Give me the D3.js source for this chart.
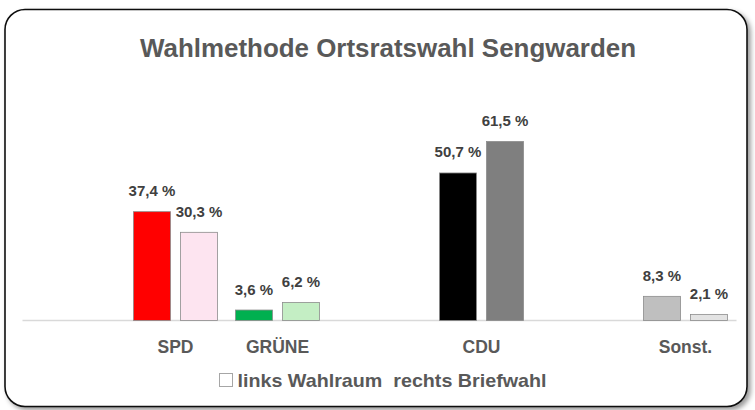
<!DOCTYPE html>
<html lang="de">
<head>
    <meta charset="UTF-8">
    <title>Wahlmethode Ortsratswahl Sengwarden</title>
    <script src="https://d3js.org/d3.v7.min.js"></script>
    <style>
        body { margin: 0; background: #fff; font-family: "Liberation Sans", Arial, sans-serif; }
    </style>
</head>
<body>
    <svg id="chart" width="755" height="410"></svg>
    <script>
        // Data (empty slots keep the gaps between parties)
        const categories = ["", "SPD", "GRÜNE", "", "CDU", "", "Sonst."];
        const wahlraum = [null, 37.4, 3.6, null, 50.7, null, 8.3];
        const briefwahl = [null, 30.3, 6.2, null, 61.5, null, 2.1];
        const colorsWahlraum = [null, "#ff0000", "#00b050", null, "#000000", null, "#bfbfbf"];
        const colorsBriefwahl = [null, "#fde4f0", "#c4eec4", null, "#7f7f7f", null, "#e3e3e3"];
        const title = "Wahlmethode Ortsratswahl Sengwarden";
        const legendText = "links Wahlraum  rechts Briefwahl";

        const width = 755;
        const height = 410;
        const svg = d3.select("#chart");

        // shadow for the frame
        const defs = svg.append("defs");
        const filter = defs.append("filter").attr("id", "shadow")
            .attr("x", "-5%").attr("y", "-5%").attr("width", "110%").attr("height", "115%");
        filter.append("feDropShadow")
            .attr("dx", 3).attr("dy", 3).attr("stdDeviation", 2.5)
            .attr("flood-color", "#000").attr("flood-opacity", 0.4);

        svg.append("rect")
            .attr("x", 5).attr("y", 9.5)
            .attr("width", 742).attr("height", 397)
            .attr("rx", 20).attr("ry", 20)
            .attr("fill", "#fff")
            .attr("stroke", "#111")
            .attr("stroke-width", 1.6)
            .attr("filter", "url(#shadow)");

        // Title
        svg.append("text")
            .attr("x", 388).attr("y", 57)
            .attr("text-anchor", "middle")
            .attr("font-size", 25)
            .attr("font-weight", "bold")
            .attr("fill", "#595959")
            .attr("textLength", 496)
            .attr("lengthAdjust", "spacingAndGlyphs")
            .text(title);

        // Scales
        const idx = categories.map((d, i) => i);
        const x = d3.scaleBand().domain(idx).range([22.5, 736.5]).padding(0);
        const x1 = d3.scaleBand().domain(["wahlraum", "briefwahl"])
            .range([0, x.bandwidth()]).paddingInner(0.213).paddingOuter(0.19);
        const y = d3.scaleLinear().domain([0, 70]).range([320.5, 116.8]);

        // Baseline
        svg.append("line")
            .attr("x1", x.range()[0]).attr("x2", x.range()[1])
            .attr("y1", y(0)).attr("y2", y(0))
            .attr("stroke", "#d9d9d9").attr("stroke-width", 1.5);

        const series = [
            { key: "wahlraum", values: wahlraum, colors: colorsWahlraum },
            { key: "briefwahl", values: briefwahl, colors: colorsBriefwahl }
        ];

        const fmt = v => d3.format(".1f")(v).replace(".", ",") + " %";

        series.forEach(s => {
            const data = idx.filter(i => s.values[i] != null);
            svg.append("g").selectAll("rect")
                .data(data)
                .join("rect")
                .attr("x", i => x(i) + x1(s.key))
                .attr("y", i => y(s.values[i]))
                .attr("width", x1.bandwidth())
                .attr("height", i => y(0) - y(s.values[i]))
                .attr("fill", i => s.colors[i])
                .attr("stroke", "#8c8c8c")
                .attr("stroke-width", 0.8);

            svg.append("g").selectAll("text")
                .data(data)
                .join("text")
                .attr("x", i => x(i) + x1(s.key) + x1.bandwidth() / 2)
                .attr("y", i => y(s.values[i]) - 15.5)
                .attr("text-anchor", "middle")
                .attr("font-size", 15)
                .attr("font-weight", "bold")
                .attr("fill", "#404040")
                .text(i => fmt(s.values[i]));
        });

        // Category labels
        svg.append("g").selectAll("text")
            .data(idx.filter(i => categories[i] !== ""))
            .join("text")
            .attr("x", i => x(i) + x.bandwidth() / 2)
            .attr("y", 353)
            .attr("text-anchor", "middle")
            .attr("font-size", 17.5)
            .attr("font-weight", "bold")
            .attr("fill", "#595959")
            .text(i => categories[i]);

        // Legend
        svg.append("rect")
            .attr("x", 219.5).attr("y", 373.5)
            .attr("width", 13).attr("height", 13)
            .attr("fill", "#fff")
            .attr("stroke", "#a6a6a6").attr("stroke-width", 1);

        svg.append("text")
            .attr("x", 237.5).attr("y", 387)
            .attr("font-size", 19)
            .attr("font-weight", "bold")
            .attr("fill", "#595959")
            .style("white-space", "pre")
            .attr("textLength", 309)
            .attr("lengthAdjust", "spacingAndGlyphs")
            .text(legendText);
    </script>
</body>
</html>
